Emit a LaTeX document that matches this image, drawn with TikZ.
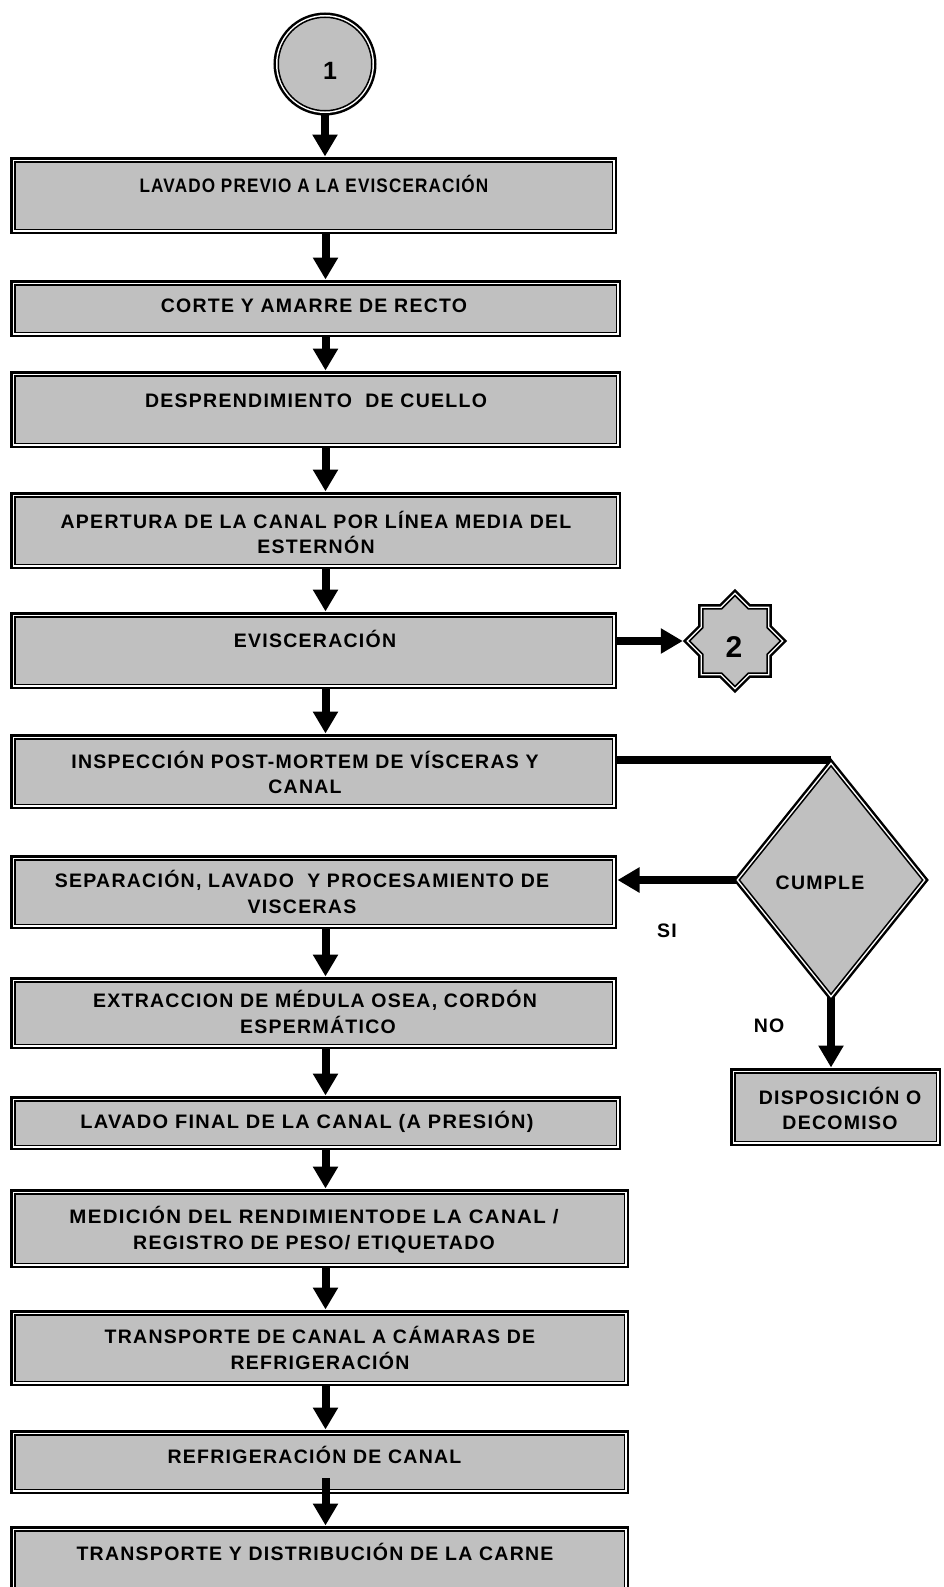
\documentclass[tikz,border=0pt]{standalone}
\usepackage{graphicx}
\usepackage{fontspec}
\setmainfont{Liberation Sans}
\newfontfamily\boxfont[LetterSpace=6.5]{Liberation Sans}
\usetikzlibrary{arrows.meta,shapes.geometric,calc}
\definecolor{boxgray}{HTML}{C0C0C0}
\pgfdeclarelayer{bg}
\pgfsetlayers{bg,main}
\begin{document}
\begin{tikzpicture}[x=1pt,y=-1pt,
  shp/.style={draw=black, fill=boxgray, line width=1.5pt,
    preaction={draw=black, line width=9.5pt},
    preaction={draw=white, line width=4.5pt}},
  box/.style={shp, rectangle, inner sep=0pt},
  txt/.style={font=\boxfont\fontsize{19.5}{24}\selectfont\bfseries, inner sep=0pt, anchor=base},
  arr/.style={line width=8pt, -{Triangle[width=24pt,length=22pt]}, shorten >=4.5pt},
  conn/.style={line width=8pt}]
\clip (0,0) rectangle (943,1587);
\begin{pgfonlayer}{bg}
\fill[white] (0,0) rectangle (943,1587);
\end{pgfonlayer}
\coordinate (ax) at (325.5,0);
% start connector
\node[shp, circle, inner sep=0pt, minimum size=93.5pt] (c1) at (325,64) {};
\node[font=\fontsize{25}{25}\selectfont\bfseries, inner sep=0pt] (c1t) at (330,71) {1};
% boxes
\node[box, minimum width=597.5pt, minimum height=67.5pt] (b1) at (313.5,195.5) {};
\node[box, minimum width=601.5pt, minimum height=47.5pt] (b2) at (315.5,308.5) {};
\node[box, minimum width=601.5pt, minimum height=67.5pt] (b3) at (315.5,409.5) {};
\node[box, minimum width=601.5pt, minimum height=67.5pt] (b4) at (315.5,530.5) {};
\node[box, minimum width=597.5pt, minimum height=67.5pt] (b5) at (313.5,650.5) {};
\node[box, minimum width=597.5pt, minimum height=65.5pt] (b6) at (313.5,771.5) {};
\node[box, minimum width=597.5pt, minimum height=64.5pt] (b7) at (313.5,892) {};
\node[box, minimum width=597.5pt, minimum height=62.5pt] (b8) at (313.5,1013) {};
\node[box, minimum width=601.5pt, minimum height=44.5pt] (b9) at (315.5,1123) {};
\node[box, minimum width=609.5pt, minimum height=69.5pt] (b10) at (319.5,1228.5) {};
\node[box, minimum width=609.5pt, minimum height=66.5pt] (b11) at (319.5,1348) {};
\node[box, minimum width=609.5pt, minimum height=54.5pt] (b12) at (319.5,1462) {};
\node[box, minimum width=609.5pt, minimum height=64.5pt] (b13) at (319.5,1563) {};
\node[box, minimum width=201.5pt, minimum height=68.5pt] (disp) at (835.5,1107) {};
% decision
\node[shp, diamond, inner sep=0pt, minimum width=184pt, minimum height=229pt] (d) at (831,880) {};
% off-page star
\node[inner sep=0pt, minimum size=100pt, circle] (s2) at (735,641) {};
\draw[shp] ($(s2)+(0:45.5)$) foreach \i in {0,...,7} { -- ($(s2)+(\i*45+22.5:34.8)$) -- ($(s2)+(\i*45+45:45.5)$) } -- cycle;
\node[font=\fontsize{30}{30}\selectfont\bfseries, inner sep=0pt] (s2t) at (734,647) {2};
% texts
\node[txt] (t1) at (314,192) {\scalebox{0.88}[1]{LAVADO PREVIO A LA EVISCERACIÓN}};
\node[txt] (t2) at (314,312) {CORTE Y AMARRE DE RECTO};
\node[txt] (t3) at (316,407) {DESPRENDIMIENTO\ \ DE CUELLO};
\node[txt] (t4a) at (316,528) {APERTURA DE LA CANAL POR LÍNEA MEDIA DEL};
\node[txt] (t4b) at (316,553) {ESTERNÓN};
\node[txt] (t5) at (315,647) {EVISCERACIÓN};
\node[txt] (t6a) at (305,768) {INSPECCIÓN POST-MORTEM DE VÍSCERAS Y};
\node[txt] (t6b) at (305,793) {CANAL};
\node[txt] (t7a) at (302,887) {SEPARACIÓN, LAVADO\ \ Y PROCESAMIENTO DE};
\node[txt] (t7b) at (302,913) {VISCERAS};
\node[txt] (t8a) at (315,1007) {EXTRACCION DE MÉDULA OSEA, CORDÓN};
\node[txt] (t8b) at (318,1033) {ESPERMÁTICO};
\node[txt] (t9) at (307,1128) {\scalebox{1.025}[1]{LAVADO FINAL DE LA CANAL (A PRESIÓN)}};
\node[txt] (t10a) at (314,1223) {\scalebox{1.05}[1]{MEDICIÓN DEL RENDIMIENTODE LA CANAL /}};
\node[txt] (t10b) at (314,1249) {REGISTRO DE PESO/ ETIQUETADO};
\node[txt] (t11a) at (320,1343) {TRANSPORTE DE CANAL A CÁMARAS DE};
\node[txt] (t11b) at (320,1369) {REFRIGERACIÓN};
\node[txt] (t12) at (314.5,1463) {REFRIGERACIÓN DE CANAL};
\node[txt] (t13) at (315,1560) {TRANSPORTE Y DISTRIBUCIÓN DE LA CARNE};
\node[txt] (tc) at (820,889) {CUMPLE};
\node[txt] (td1) at (840,1104) {DISPOSICIÓN O};
\node[txt] (td2) at (840,1129) {DECOMISO};
\node[txt] (lsi) at (667,937) {SI};
\node[txt] (lno) at (769,1032) {NO};
% connectors
\begin{pgfonlayer}{bg}
\draw[arr] (c1.south) -- (c1.south |- b1.north);
\draw[arr] (b1.south -| ax) -- (b2.north -| ax);
\draw[arr] (b2.south -| ax) -- (b3.north -| ax);
\draw[arr] (b3.south -| ax) -- (b4.north -| ax);
\draw[arr] (b4.south -| ax) -- (b5.north -| ax);
\draw[arr] (b5.south -| ax) -- (b6.north -| ax);
\draw[arr] (b7.south -| ax) -- (b8.north -| ax);
\draw[arr] (b8.south -| ax) -- (b9.north -| ax);
\draw[arr] (b9.south -| ax) -- (b10.north -| ax);
\draw[arr] (b10.south -| ax) -- (b11.north -| ax);
\draw[arr] (b11.south -| ax) -- (b12.north -| ax);
\draw[arr, shorten >=2pt] (b5.east |- s2.west) -- (s2.west);
\draw[conn] (b6.east |- 0,760) -- (d.north |- 0,760);
\draw[arr] (d.west) -- (b7.east |- d.west);
\draw[arr] (d.south) -- (disp.north -| d.south);
\end{pgfonlayer}
\draw[arr] ($(b12.south -| ax)+(0,-12)$) -- (b13.north -| ax);
\end{tikzpicture}
\end{document}
